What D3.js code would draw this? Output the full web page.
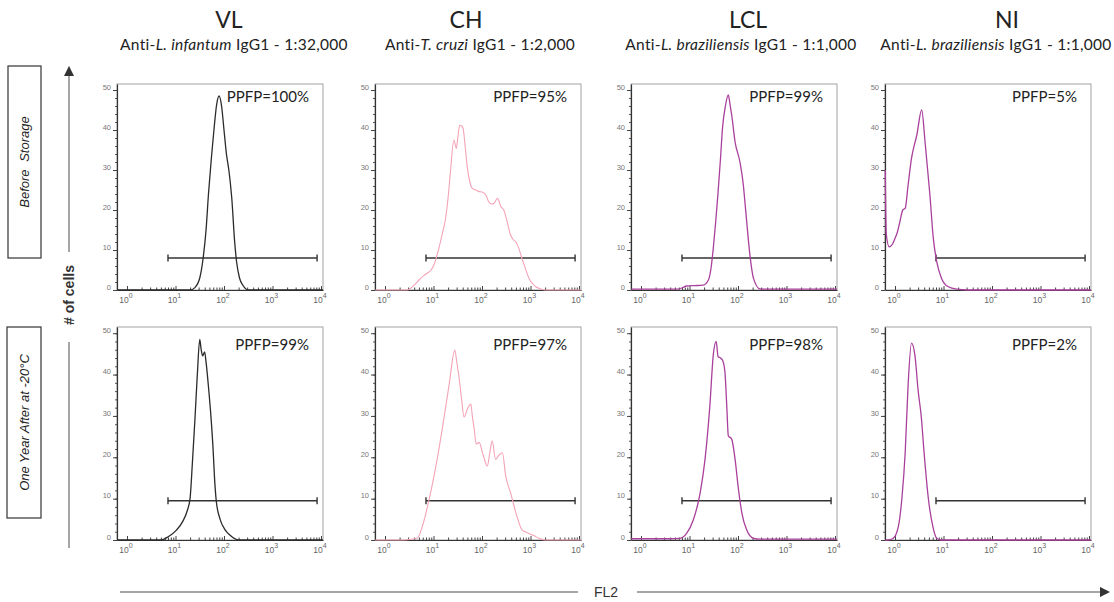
<!DOCTYPE html>
<html>
<head>
<meta charset="utf-8">
<script src="https://cdn.jsdelivr.net/npm/d3@7"></script>
<style>
  body { margin: 0; background: #fff; }
  svg text { font-family: "Liberation Sans", Arial, sans-serif; }
</style>
</head>
<body>
<div id="chart"></div>
<script>
const width = 1114;
const height = 602;

// Column headers
const groups = ["VL", "CH", "LCL", "NI"];
const antibodySpecies = ["L. infantum", "T. cruzi", "L. braziliensis", "L. braziliensis"];
const dilutions = ["1:32,000", "1:2,000", "1:1,000", "1:1,000"];
const conditions = ["Before Storage", "One Year After at -20°C"];

// Percentage of positive fluorescent parasites
const ppfpBefore = [100, 95, 99, 5];
const ppfpAfter = [99, 97, 98, 2];

// Marker gate (FL2 range) and ticks
const gateRange = [7, 8300];
const gateCount = [8, 9.5];
const yTicks = [0, 10, 20, 30, 40, 50];
const xTicks = [1, 10, 100, 1000, 10000];

// Histograms: [log10(FL2), # of cells]
const vlBefore = [[-0.2,0],[1.3,0],[1.4,0.6],[1.5,3],[1.57,8],[1.63,15],[1.68,24],[1.74,33],[1.8,41],[1.85,46.5],[1.9,48.5],[1.95,46],[2,40],[2.05,34],[2.1,30],[2.16,23],[2.22,12],[2.26,7],[2.32,3],[2.4,1],[2.5,0],[4.04,0]];
const chBefore = [[-0.2,0],[0.46,0],[0.6,1.2],[0.7,2.5],[0.8,3.6],[0.87,4.2],[0.95,5],[1.01,6.3],[1.11,10.4],[1.18,14],[1.25,18],[1.3,23],[1.35,29.6],[1.42,37.5],[1.47,35.4],[1.5,38],[1.54,41.2],[1.58,41],[1.61,40.4],[1.66,35],[1.7,30.4],[1.75,27],[1.8,25.4],[1.87,25],[1.94,24.6],[2,24.5],[2.08,23.75],[2.14,22],[2.2,21.5],[2.25,21.7],[2.32,22.9],[2.39,20.8],[2.45,20],[2.52,17],[2.59,13.75],[2.65,12.5],[2.7,12],[2.76,10.4],[2.82,8],[2.87,6.25],[2.97,2.9],[3.05,1.5],[3.11,0.8],[3.2,0.3],[3.31,0],[4.04,0]];
const lclBefore = [[-0.2,0.2],[0.7,0.2],[0.84,0.5],[0.94,1],[1.1,1.1],[1.28,1.2],[1.39,2.5],[1.45,6],[1.49,10.4],[1.54,17],[1.59,24.6],[1.64,33],[1.68,40.4],[1.74,46],[1.8,48.75],[1.84,46],[1.87,43.75],[1.94,37],[2.04,32],[2.11,26.25],[2.15,21],[2.18,17],[2.25,8.3],[2.32,2.9],[2.45,0.3],[2.6,0.2],[4.04,0.2]];
const niBefore = [[-0.2,30],[-0.18,14],[-0.12,10.8],[-0.05,11.5],[0,12.9],[0.05,14.5],[0.1,17],[0.16,20],[0.21,20.4],[0.27,26.25],[0.34,32.9],[0.45,38.75],[0.55,45],[0.62,37],[0.72,23.75],[0.79,12.9],[0.86,7.1],[0.96,2.9],[1.1,0.8],[1.27,0.2],[1.5,0],[4.04,0]];

const vlAfter = [[-0.2,0],[0.7,0],[0.85,0.8],[1.02,2.4],[1.15,4.5],[1.24,7],[1.3,10],[1.35,19],[1.4,29],[1.45,40],[1.5,48.5],[1.53,46],[1.56,44.5],[1.6,45.5],[1.63,43],[1.68,37],[1.73,30],[1.77,23],[1.81,14],[1.84,9.5],[1.92,5],[2.02,2.5],[2.12,1.2],[2.3,0],[4.04,0]];
const chAfter = [[-0.2,0],[0.39,0],[0.55,0.2],[0.67,0.5],[0.77,3.3],[0.91,9.8],[1.05,17.9],[1.18,26.8],[1.32,37.4],[1.44,45.9],[1.48,43],[1.53,39],[1.58,34],[1.63,29.7],[1.7,31.7],[1.77,32.9],[1.8,30],[1.84,26.8],[1.88,23.2],[1.94,23.6],[2.02,20.7],[2.11,17.9],[2.16,21],[2.21,24],[2.28,19.5],[2.35,20.5],[2.42,21.1],[2.49,15.4],[2.59,11.4],[2.7,6.5],[2.83,2.4],[2.97,1.6],[3.08,1],[3.18,0.4],[3.3,0],[4.04,0]];
const lclAfter = [[-0.2,0.3],[0.6,0.3],[0.8,0.4],[0.94,1.6],[1.08,4.9],[1.22,11.4],[1.32,19.5],[1.42,32.5],[1.49,44.7],[1.55,48],[1.59,44.3],[1.64,44],[1.68,43.5],[1.73,40.7],[1.77,32],[1.8,25.2],[1.87,24.4],[1.94,19.5],[2.01,12.2],[2.08,6.5],[2.18,2.4],[2.32,0.4],[2.45,0.2],[4.04,0.2]];
const niAfter = [[-0.2,0],[-0.1,0.1],[-0.035,0.4],[0.07,3.3],[0.14,9.8],[0.21,21.1],[0.27,37.4],[0.34,47.6],[0.41,44.7],[0.48,35.8],[0.54,30],[0.6,21.1],[0.69,9.8],[0.78,3.3],[0.86,0.4],[0.95,0],[4.04,0]];

const histograms = [
    [vlBefore, chBefore, lclBefore, niBefore],
    [vlAfter, chAfter, lclAfter, niAfter]
];
const ppfp = [ppfpBefore, ppfpAfter];
const lineColors = ["#2b2b2b", "#f4a3b6", "#a9409c", "#a9409c"];

// layout
const panelLeft = [117, 375, 631, 885];
const panelWidth = 206;
const rowBottom = [290, 540];
const rowTop = [84, 327];
const titleX = [229, 466, 748, 1007];
const subX = [234, 480, 741, 996];

const svg = d3.select("#chart").append("svg")
    .attr("width", width)
    .attr("height", height);

const x = d3.scaleLog()
    .domain([Math.pow(10, -10 / 48.5), Math.pow(10, 4 + 2 / 48.5)])
    .range([0, panelWidth]);

const xMinor = [];
for (let e = 0; e < 4; e++) {
    for (let k = 2; k <= 9; k++) xMinor.push(k * Math.pow(10, e));
}

const line = d3.line()
    .x(d => x(Math.pow(10, d[0])))
    .curve(d3.curveMonotoneX);

// Column titles
groups.forEach((g, i) => {
    svg.append("text")
        .attr("x", titleX[i])
        .attr("y", 28)
        .attr("text-anchor", "middle")
        .style("font-family", "Lato, 'Open Sans', sans-serif")
        .style("font-size", "23px")
        .style("fill", "#222")
        .text(g);

    const sub = svg.append("text")
        .attr("x", subX[i])
        .attr("y", 50)
        .attr("text-anchor", "middle")
        .style("font-family", "Lato, 'Open Sans', sans-serif")
        .style("font-size", "15.5px")
        .style("letter-spacing", "0.3px")
        .style("fill", "#222");
    sub.append("tspan").text("Anti-");
    sub.append("tspan").style("font-style", "italic").text(antibodySpecies[i]);
    sub.append("tspan").text(" IgG1 - " + dilutions[i]);
});

// Panels
histograms.forEach((row, r) => {
    const y = d3.scaleLinear()
        .domain([0, 51.5])
        .range([rowBottom[r], rowTop[r]]);

    row.forEach((data, c) => {
        const g = svg.append("g")
            .attr("transform", `translate(${panelLeft[c]},0)`);

        // frame
        g.append("rect")
            .attr("x", 0)
            .attr("y", rowTop[r])
            .attr("width", panelWidth)
            .attr("height", rowBottom[r] - rowTop[r])
            .style("fill", "none")
            .style("stroke", "#8a8a8a")
            .style("stroke-width", 0.8);

        // y axis
        const yMinor = g.append("g")
            .call(d3.axisLeft(y).tickValues(d3.range(0, 51, 2)).tickSize(2).tickFormat(""));
        yMinor.select(".domain").remove();
        yMinor.selectAll("line").style("stroke", "#555");

        const yAx = g.append("g")
            .call(d3.axisLeft(y).tickValues(yTicks).tickSize(4).tickSizeOuter(0).tickPadding(2));
        yAx.select(".domain").style("stroke", "#333").style("stroke-width", 1.2);
        yAx.selectAll(".tick line").style("stroke", "#444");
        yAx.selectAll("text")
            .style("font-size", "7.5px")
            .style("fill", "#777")
            .attr("dy", "-0.1em");

        // x axis
        const xMin = g.append("g")
            .attr("transform", `translate(0,${rowBottom[r]})`)
            .call(d3.axisTop(x).tickValues(xMinor).tickSize(2.5).tickFormat(""));
        xMin.select(".domain").remove();
        xMin.selectAll("line").style("stroke", "#444");

        const xAx = g.append("g")
            .attr("transform", `translate(0,${rowBottom[r]})`)
            .call(d3.axisTop(x).tickValues(xTicks).tickSize(4).tickSizeOuter(0).tickFormat(""));
        xAx.select(".domain").style("stroke", "#333").style("stroke-width", 1.2);
        xAx.selectAll(".tick line").style("stroke", "#444");

        xTicks.forEach(t => {
            const lbl = g.append("text")
                .attr("x", x(t) - 1)
                .attr("y", rowBottom[r] + 13)
                .attr("text-anchor", "middle")
                .style("font-size", "8.5px")
                .style("fill", "#666");
            lbl.append("tspan").text("10");
            lbl.append("tspan")
                .attr("dy", -5)
                .style("font-size", "7px")
                .text(Math.round(Math.log10(t)));
        });

        // gate marker
        const gy = y(gateCount[r]);
        const gate = g.append("g").style("stroke", "#333").style("stroke-width", 1.4);
        gate.append("line")
            .attr("x1", x(gateRange[0])).attr("x2", x(gateRange[1]))
            .attr("y1", gy).attr("y2", gy);
        gateRange.forEach(v => {
            gate.append("line")
                .attr("x1", x(v)).attr("x2", x(v))
                .attr("y1", gy - 3.5).attr("y2", gy + 3.5);
        });

        // histogram
        line.y(d => y(d[1]));
        g.append("path")
            .datum(data)
            .attr("d", line)
            .style("fill", "none")
            .style("stroke", lineColors[c])
            .style("stroke-width", c === 1 ? 1.1 : 1.3)
            .style("stroke-linejoin", "round");

        // PPFP label
        g.append("text")
            .attr("x", 192)
            .attr("y", r === 0 ? 102 : 350)
            .attr("text-anchor", "end")
            .style("font-family", "Lato, 'Open Sans', sans-serif")
            .style("font-size", "15px")
            .style("fill", "#222")
            .text("PPFP=" + ppfp[r][c] + "%");
    });
});

// Row labels on the left
const boxes = [[8, 66, 33, 192], [7, 327, 34, 191]];
conditions.forEach((cond, i) => {
    const b = boxes[i];
    svg.append("rect")
        .attr("x", b[0]).attr("y", b[1])
        .attr("width", b[2]).attr("height", b[3])
        .style("fill", "#fff")
        .style("stroke", "#333")
        .style("stroke-width", 1.2);
    svg.append("text")
        .attr("transform", `translate(${b[0] + b[2] / 2 + 4.5},${b[1] + b[3] / 2}) rotate(-90)`)
        .attr("text-anchor", "middle")
        .style("font-size", "13px")
        .style("font-style", "italic")
        .style("word-spacing", i === 0 ? "4px" : "0px")
        .style("fill", "#222")
        .text(cond);
});

// arrow markers
const defs = svg.append("defs");
defs.append("marker")
    .attr("id", "arrow")
    .attr("viewBox", "0 0 10 10")
    .attr("refX", 8).attr("refY", 5)
    .attr("markerWidth", 7).attr("markerHeight", 7)
    .attr("orient", "auto")
    .append("path")
    .attr("d", "M0,0 L10,5 L0,10 z")
    .style("fill", "#333");

// y label with arrow
svg.append("line")
    .attr("x1", 69).attr("x2", 69)
    .attr("y1", 548).attr("y2", 342)
    .style("stroke", "#888").style("stroke-width", 1.5);
svg.append("line")
    .attr("x1", 69).attr("x2", 69)
    .attr("y1", 252).attr("y2", 68)
    .attr("marker-end", "url(#arrow)")
    .style("stroke", "#888").style("stroke-width", 1.5);
svg.append("text")
    .attr("transform", "translate(74,295) rotate(-90)")
    .attr("text-anchor", "middle")
    .style("font-size", "14px")
    .style("font-weight", "bold")
    .style("fill", "#333")
    .text("# of cells");

// x label with arrow
svg.append("line")
    .attr("x1", 120).attr("x2", 578)
    .attr("y1", 592).attr("y2", 592)
    .style("stroke", "#888").style("stroke-width", 1.5);
svg.append("line")
    .attr("x1", 637).attr("x2", 1108)
    .attr("y1", 592).attr("y2", 592)
    .attr("marker-end", "url(#arrow)")
    .style("stroke", "#888").style("stroke-width", 1.5);
svg.append("text")
    .attr("x", 606)
    .attr("y", 597)
    .attr("text-anchor", "middle")
    .style("font-size", "14px")
    .style("fill", "#333")
    .text("FL2");
</script>
</body>
</html>
